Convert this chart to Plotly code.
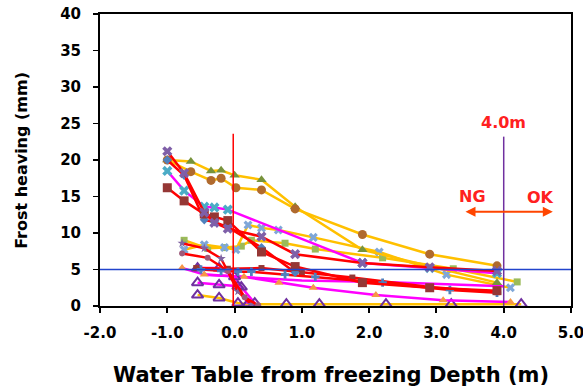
import plotly.graph_objects as go

# ---- data ----
gold_tri_x = [-1.0, -0.65, -0.35, -0.2, 0.0, 0.4, 0.9, 1.9, 3.9]
gold_tri_y = [20.0, 19.8, 18.5, 18.6, 17.9, 17.3, 13.6, 7.7, 3.2]

gold_circ_x = [-1.0, -0.65, -0.35, -0.2, 0.02, 0.4, 0.9, 1.9, 2.9, 3.9]
gold_circ_y = [20.0, 18.4, 17.2, 17.5, 16.2, 15.9, 13.3, 9.8, 7.1, 5.5]

red_xp_x = [-1.0, -0.75, -0.45, -0.3, -0.1, 0.4, 0.9, 1.9, 2.9, 3.9]
red_xp_y = [21.2, 18.2, 12.8, 11.4, 10.6, 9.5, 7.1, 5.9, 5.3, 4.8]

red_dm_x = [-1.0, -0.75, -0.45, -0.3, -0.1, 0.4, 0.9]
red_dm_y = [20.0, 17.9, 11.8, 11.5, 10.8, 8.0, 4.6]

mag_xb_x = [-1.0, -0.75, -0.45, -0.3, -0.1, 1.9, 2.9, 3.9]
mag_xb_y = [18.5, 15.8, 13.6, 13.5, 13.2, 5.9, 5.2, 4.5]

sq_x = [-1.0, -0.75, -0.45, -0.3, -0.1, 0.4, 0.9, 1.9, 2.9, 3.9]
sq_y = [16.2, 14.4, 12.6, 12.2, 11.7, 7.4, 5.4, 3.2, 2.5, 2.1]

gold_sq_x = [-0.75, -0.4, -0.15, 0.1, 0.25, 0.75, 1.2, 2.2, 3.25, 4.2]
gold_sq_y = [9.0, 7.9, 8.0, 8.2, 9.0, 8.6, 7.8, 6.6, 5.1, 3.3]

gold_xb_x = [-0.75, -0.45, -0.15, 0.02, 0.2, 0.4, 0.65, 1.17, 2.15, 3.15, 4.1]
gold_xb_y = [7.7, 8.4, 8.0, 7.7, 11.1, 10.7, 10.4, 9.4, 7.4, 4.3, 2.5]

red_st1_x = [-0.78, -0.45, -0.2, 0.05, 0.25]
red_st1_y = [8.6, 7.9, 6.5, 2.0, 0.2]

red_st2_x = [-0.78, -0.4, -0.1, 0.15, 0.35]
red_st2_y = [7.2, 6.6, 4.8, 1.2, 0.1]

red_long_x = [-0.57, -0.1, 0.4, 1.0, 1.75, 2.9, 3.9]
red_long_y = [5.2, 5.1, 5.2, 4.6, 3.9, 2.6, 1.9]

red_plus_x = [-0.5, -0.2, 0.05, 0.25, 0.75, 1.2, 2.2, 3.2, 3.9]
red_plus_y = [5.0, 4.8, 4.7, 4.7, 4.3, 4.0, 3.2, 2.2, 1.8]

mag_otr_x = [-0.78, -0.45, 0.14, 0.66, 1.17, 2.1, 3.1, 4.1]
mag_otr_y = [5.2, 4.3, 4.0, 3.2, 2.5, 1.5, 0.8, 0.55]

mag_low_x = [-0.5, 0.0, 0.5, 1.0, 2.2, 3.2, 4.0]
mag_low_y = [4.3, 4.0, 3.8, 3.5, 3.3, 3.0, 2.7]

mag_ptA_x = [-0.55, -0.23, 0.0, 0.1, 0.3]
mag_ptA_y = [5.2, 5.2, 4.0, 2.6, 0.4]

mag_ptB_x = [-0.55, -0.23, 0.05, 0.2]
mag_ptB_y = [3.2, 2.9, 2.7, 0.3]

gold_pt_x = [-0.55, -0.23, 0.05, 0.2, 0.77, 1.26, 2.25, 3.22, 4.26]
gold_pt_y = [1.5, 1.1, 0.4, 0.25, 0.25, 0.25, 0.25, 0.25, 0.25]

x_ticks = [-2.0, -1.0, 0.0, 1.0, 2.0, 3.0, 4.0, 5.0]
x_tick_labels = ["-2.0", "-1.0", "0.0", "1.0", "2.0", "3.0", "4.0", "5.0"]
y_ticks = [0, 5, 10, 15, 20, 25, 30, 35, 40]

limit_y = 5
water_line_x = -0.02
critical_x = 4.0

GOLD = "#FFC000"
RED = "#FF0000"
MAG = "#FF00FF"
BOLD = "DejaVu Sans"

series = [
    (gold_sq_x, gold_sq_y, GOLD, "square", "#9BBB59", 7),
    (gold_xb_x, gold_xb_y, GOLD, "x", "#7FA7D8", 8),
    (gold_pt_x, gold_pt_y, GOLD, "triangle-up-open", "#7030A0", 10),
    (mag_low_x, mag_low_y, MAG, "circle", "rgba(0,0,0,0)", 1),
    (mag_otr_x, mag_otr_y, MAG, "triangle-up", "#F79646", 8),
    (mag_ptA_x, mag_ptA_y, MAG, "triangle-up-open", "#7030A0", 10),
    (mag_ptB_x, mag_ptB_y, MAG, "triangle-up-open", "#7030A0", 10),
    (red_long_x, red_long_y, RED, "square", "#953735", 6),
    (red_plus_x, red_plus_y, RED, "cross", "#4F81BD", 7),
    (red_st1_x, red_st1_y, RED, "star", "#8064A2", 7),
    (red_st2_x, red_st2_y, RED, "circle", "#9E5A7A", 6),
    (gold_tri_x, gold_tri_y, GOLD, "triangle-up", "#77933C", 9),
    (gold_circ_x, gold_circ_y, GOLD, "circle", "#B06A2E", 9),
    (mag_xb_x, mag_xb_y, MAG, "x", "#4BACC6", 9),
    (red_dm_x, red_dm_y, RED, "diamond", "#4F81BD", 7),
    (sq_x, sq_y, RED, "square", "#953735", 9),
    (red_xp_x, red_xp_y, RED, "x", "#7F5FA8", 9),
]

fig = go.Figure()
for xs, ys, lc, sym, mc, ms in series:
    fig.add_trace(go.Scatter(
        x=xs, y=ys, mode="lines+markers",
        line=dict(color=lc, width=2.5),
        marker=dict(symbol=sym, color=mc, size=ms,
                    line=dict(width=2 if "open" in sym else 0, color=mc)),
        showlegend=False, hoverinfo="skip"))

# reference lines
fig.add_shape(type="line", xref="x", yref="y", x0=-2.0, x1=5.0, y0=limit_y, y1=limit_y,
              line=dict(color="#2244CC", width=1.5))
fig.add_shape(type="line", xref="x", yref="y", x0=water_line_x, x1=water_line_x, y0=0, y1=23.6,
              line=dict(color="#FF0000", width=1.5))
fig.add_shape(type="line", xref="x", yref="y", x0=critical_x, x1=critical_x, y0=0, y1=23.2,
              line=dict(color="#7030A0", width=1.5))

fig.add_annotation(x=4.0, y=25.2, text="<b>4.0m</b>", showarrow=False,
                   font=dict(family=BOLD, size=16, color="#FF2020"))
fig.add_annotation(x=3.53, y=15.0, text="<b>NG</b>", showarrow=False,
                   font=dict(family=BOLD, size=16, color="#FF2020"))
fig.add_annotation(x=4.55, y=14.8, text="<b>OK</b>", showarrow=False,
                   font=dict(family=BOLD, size=16, color="#FF2020"))
fig.add_annotation(x=4.73, y=12.9, ax=3.41, ay=12.9, xref="x", yref="y", axref="x", ayref="y",
                   text="", showarrow=True, arrowhead=2, arrowside="end+start",
                   arrowsize=1, arrowwidth=2, arrowcolor="#FF4500")

# axis titles placed as paper annotations
fig.add_annotation(xref="paper", yref="paper", x=0.49, y=-0.236, yanchor="middle",
                   text="<b>Water Table from freezing Depth (m)</b>", showarrow=False,
                   font=dict(family=BOLD, size=21, color="black"))
fig.add_annotation(xref="paper", yref="paper", x=-0.168, y=0.5, xanchor="center", yanchor="middle",
                   textangle=-90, text="<b>Frost heaving (mm)</b>", showarrow=False,
                   font=dict(family=BOLD, size=16, color="black"))

fig.update_layout(
    width=583, height=391,
    margin=dict(l=100, r=12, t=14, b=85),
    paper_bgcolor="white", plot_bgcolor="white",
    font=dict(family=BOLD, color="black"),
)
fig.update_xaxes(
    range=[-2.0, 5.0], tickvals=x_ticks, ticktext=["<b>%s</b>" % t for t in x_tick_labels],
    tickfont=dict(size=15, family=BOLD), automargin=False, ticklabelstandoff=7,
    ticklabeloverflow="allow",
    showgrid=False, zeroline=False, showline=True, linecolor="black", linewidth=2, mirror=True,
    ticks="outside", ticklen=5, tickwidth=2, tickcolor="black",
)
fig.update_yaxes(
    range=[0, 40], tickvals=y_ticks, ticktext=["<b>%d</b>" % v for v in y_ticks],
    tickfont=dict(size=15, family=BOLD), automargin=False, ticklabelstandoff=9,
    ticklabeloverflow="allow",
    showgrid=False, zeroline=False, showline=True, linecolor="black", linewidth=2, mirror=True,
    ticks="outside", ticklen=5, tickwidth=1.5, tickcolor="black",
)

# remove the default page margin so the 583x391 figure fills the window exactly
fig.write_html("out.html", config={"displayModeBar": False, "staticPlot": True},
               post_script="document.body.style.margin='0';")
